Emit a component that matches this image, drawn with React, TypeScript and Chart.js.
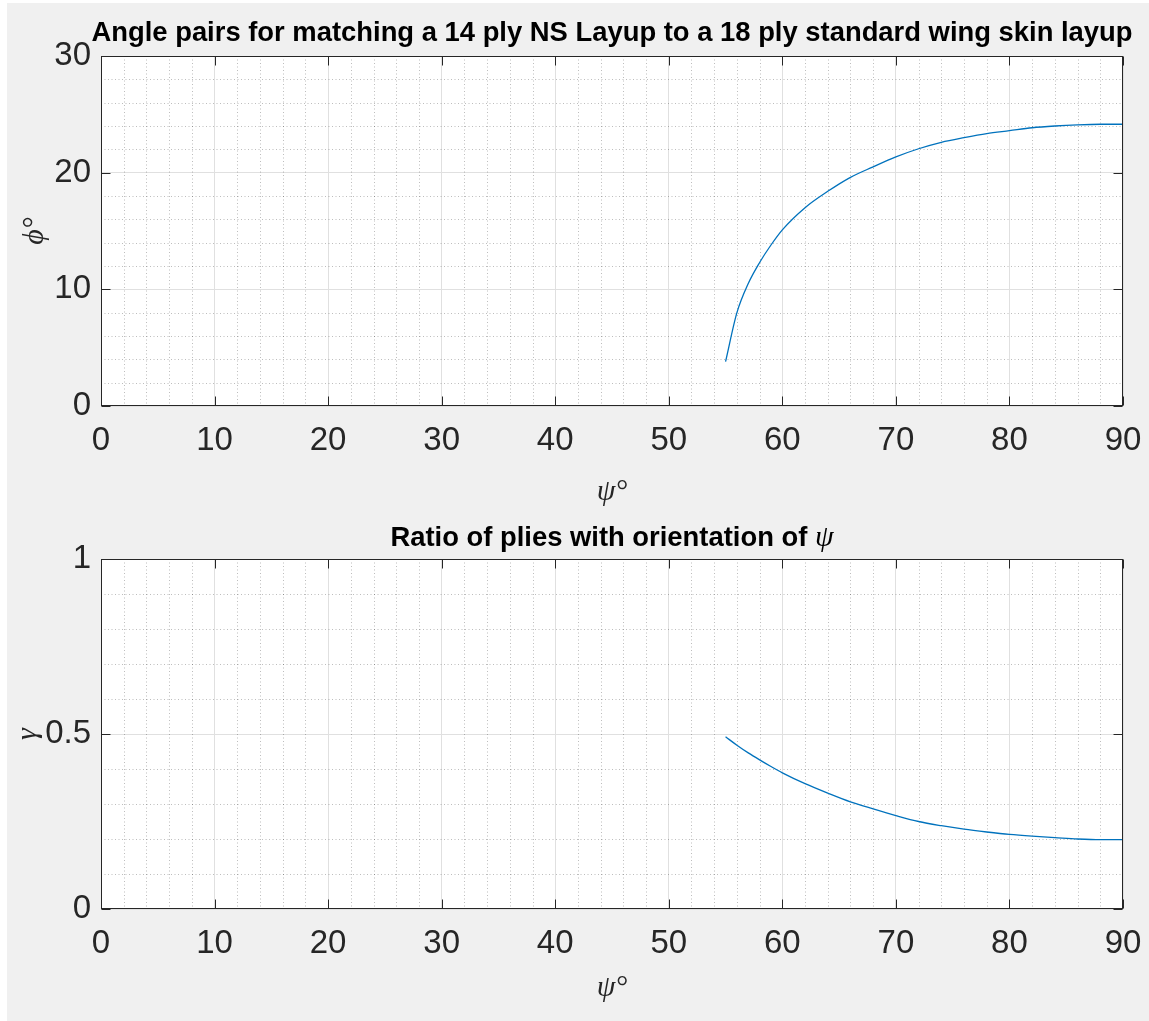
import React, { useEffect, useRef } from 'react';
import { Chart, registerables } from 'chart.js';

Chart.register(...registerables);

// ---- data ----
const psiTop = [55, 56, 57, 58, 59, 60, 62, 64, 66, 68, 70, 72, 74, 76, 78, 80, 82, 84, 86, 88, 90];
const phiTop = [3.8, 8.0, 10.5, 12.3, 13.8, 15.1, 17.0, 18.4, 19.6, 20.5, 21.35, 22.05, 22.6, 23.0, 23.35, 23.6, 23.85, 24.0, 24.1, 24.15, 24.15];

const psiBottom = [55, 56, 57, 58, 59, 60, 62, 64, 66, 68, 70, 72, 74, 76, 78, 80, 82, 84, 86, 88, 90];
const gammaBottom = [0.492, 0.468, 0.446, 0.426, 0.407, 0.389, 0.358, 0.331, 0.306, 0.286, 0.267, 0.25, 0.238, 0.228, 0.22, 0.213, 0.208, 0.204, 0.2, 0.198, 0.198];

const xTickValues = [0, 10, 20, 30, 40, 50, 60, 70, 80, 90];
const topYTickValues = [0, 10, 20, 30];
const bottomYTickValues = [0, 0.5, 1];

const topTitle = 'Angle pairs for matching a 14 ply NS Layup to a 18 ply standard wing skin layup';
const bottomTitleText = 'Ratio of plies with orientation of ';
const bottomTitleSymbol = 'ψ';
const xLabel = 'ψ°';
const topYLabel = 'ϕ°';
const bottomYLabel = 'γ';

// ---- styling ----
const SANS = "'Liberation Sans', Arial, Helvetica, sans-serif";
const SERIF = "'Liberation Serif', 'DejaVu Serif', serif";
const AXIS_COLOR = '#262626';
const LINE_COLOR = '#0072BD';

type TitlePart = { text: string; font: string };

const matlabPlugin = {
  id: 'matlab',
  beforeDraw(chart: any) {
    const { ctx, chartArea: a } = chart;
    ctx.save();
    ctx.fillStyle = '#ffffff';
    ctx.fillRect(a.left, a.top, a.right - a.left, a.bottom - a.top);
    ctx.restore();
  },
  beforeDatasetsDraw(chart: any) {
    const { ctx, chartArea: a, scales } = chart;
    ctx.save();
    ctx.strokeStyle = 'rgba(38,38,38,0.3)';
    ctx.lineWidth = 1;
    ctx.setLineDash([1, 2.5]);
    const drawMinor = (scale: any, horizontal: boolean) => {
      const vals = scale.ticks.map((t: any) => t.value);
      for (let i = 0; i < vals.length - 1; i++) {
        for (let k = 1; k < 5; k++) {
          const v = vals[i] + ((vals[i + 1] - vals[i]) * k) / 5;
          const p = Math.round(scale.getPixelForValue(v)) + 0.5;
          ctx.beginPath();
          if (horizontal) {
            ctx.moveTo(p, a.top);
            ctx.lineTo(p, a.bottom);
          } else {
            ctx.moveTo(a.left, p);
            ctx.lineTo(a.right, p);
          }
          ctx.stroke();
        }
      }
    };
    drawMinor(scales.x, true);
    drawMinor(scales.y, false);
    ctx.restore();
  },
  afterDatasetsDraw(chart: any) {
    const { ctx, chartArea: a, scales } = chart;
    const L = Math.round(a.left) + 0.5;
    const R = Math.round(a.right) - 0.5;
    const T = Math.round(a.top) + 0.5;
    const B = Math.round(a.bottom) - 0.5;
    ctx.save();
    ctx.strokeStyle = AXIS_COLOR;
    ctx.lineWidth = 1;
    ctx.setLineDash([]);
    ctx.strokeRect(L, T, R - L, B - T);
    const tl = 9;
    ctx.beginPath();
    scales.x.ticks.forEach((t: any) => {
      const p = Math.round(scales.x.getPixelForValue(t.value)) + 0.5;
      ctx.moveTo(p, B);
      ctx.lineTo(p, B - tl);
      ctx.moveTo(p, T);
      ctx.lineTo(p, T + tl);
    });
    scales.y.ticks.forEach((t: any) => {
      const p = Math.round(scales.y.getPixelForValue(t.value)) + 0.5;
      ctx.moveTo(L, p);
      ctx.lineTo(L + tl, p);
      ctx.moveTo(R, p);
      ctx.lineTo(R - tl, p);
    });
    ctx.stroke();
    ctx.restore();
  },
  afterDraw(chart: any, _args: any, opts: any) {
    const parts: TitlePart[] = opts.parts || [];
    const { ctx, chartArea: a } = chart;
    ctx.save();
    ctx.fillStyle = '#000000';
    ctx.textBaseline = 'alphabetic';
    ctx.textAlign = 'left';
    let total = 0;
    const widths = parts.map((p) => {
      ctx.font = p.font;
      const w = ctx.measureText(p.text).width;
      total += w;
      return w;
    });
    let x = (a.left + a.right) / 2 - total / 2;
    parts.forEach((p, i) => {
      ctx.font = p.font;
      ctx.fillText(p.text, x, opts.baseline);
      x += widths[i];
    });
    ctx.restore();
  },
};

type Cfg = {
  xs: number[];
  ys: number[];
  yMax: number;
  yTicks: number[];
  yLabel: string;
  yTitlePad: number;
  height: number;
  areaTop: number;
  areaBottom: number;
  titleParts: TitlePart[];
  titleBaseline: number;
  xTitlePad: number;
};

function makeConfig(c: Cfg): any {
  const tickFont = { family: SANS, size: 33 };
  return {
    type: 'scatter',
    data: {
      datasets: [
        {
          data: c.xs.map((x, i) => ({ x, y: c.ys[i] })),
          showLine: true,
          borderColor: LINE_COLOR,
          borderWidth: 1.3,
          pointRadius: 0,
          fill: false,
          cubicInterpolationMode: 'monotone',
        },
      ],
    },
    options: {
      responsive: false,
      animation: false,
      events: [],
      layout: { padding: { top: c.areaTop, left: 0, right: 26, bottom: 0 } },
      plugins: {
        legend: { display: false },
        tooltip: { enabled: false },
        title: { display: false },
        matlab: { parts: c.titleParts, baseline: c.titleBaseline },
      },
      scales: {
        x: {
          type: 'linear',
          min: 0,
          max: 90,
          afterBuildTicks: (s: any) => {
            s.ticks = xTickValues.map((v) => ({ value: v }));
          },
          afterFit: (s: any) => {
            s.height = c.height - c.areaBottom;
            s.paddingLeft = 0;
            s.paddingRight = 0;
          },
          ticks: {
            font: tickFont,
            color: AXIS_COLOR,
            padding: 15,
            autoSkip: false,
            maxRotation: 0,
            callback: (v: any) => String(+v),
          },
          grid: { color: '#e0e0e0', lineWidth: 1, drawTicks: false },
          border: { display: false },
          title: {
            display: true,
            text: xLabel,
            color: AXIS_COLOR,
            font: { family: SERIF, size: 30, style: 'italic' },
            padding: { top: 0, bottom: c.xTitlePad },
          },
        },
        y: {
          type: 'linear',
          min: 0,
          max: c.yMax,
          afterBuildTicks: (s: any) => {
            s.ticks = c.yTicks.map((v) => ({ value: v }));
          },
          afterFit: (s: any) => {
            s.width = 101;
            s.paddingTop = 0;
            s.paddingBottom = 0;
          },
          ticks: {
            font: tickFont,
            color: AXIS_COLOR,
            padding: 10,
            autoSkip: false,
            callback: (v: any) => String(+v),
          },
          grid: { color: '#e0e0e0', lineWidth: 1, drawTicks: false },
          border: { display: false },
          title: {
            display: true,
            text: c.yLabel,
            color: AXIS_COLOR,
            font: { family: SERIF, size: 30, style: 'italic' },
            padding: { top: c.yTitlePad, bottom: 0 },
          },
        },
      },
    },
    plugins: [matlabPlugin],
  };
}

export default function App() {
  const topRef = useRef<HTMLCanvasElement>(null);
  const botRef = useRef<HTMLCanvasElement>(null);

  useEffect(() => {
    const titleFont = `bold 27.4px ${SANS}`;
    const c1 = new Chart(
      topRef.current as HTMLCanvasElement,
      makeConfig({
        xs: psiTop,
        ys: phiTop,
        yMax: 30,
        yTicks: topYTickValues,
        yLabel: topYLabel,
        yTitlePad: 17,
        height: 510,
        areaTop: 56,
        areaBottom: 406,
        titleParts: [{ text: topTitle, font: titleFont }],
        titleBaseline: 41,
        xTitlePad: 0,
      })
    );
    const c2 = new Chart(
      botRef.current as HTMLCanvasElement,
      makeConfig({
        xs: psiBottom,
        ys: gammaBottom,
        yMax: 1,
        yTicks: bottomYTickValues,
        yLabel: bottomYLabel,
        yTitlePad: 10,
        height: 511,
        areaTop: 49,
        areaBottom: 399,
        titleParts: [
          { text: bottomTitleText, font: titleFont },
          { text: bottomTitleSymbol, font: `italic 30px ${SERIF}` },
        ],
        titleBaseline: 36,
        xTitlePad: 15,
      })
    );
    return () => {
      c1.destroy();
      c2.destroy();
    };
  }, []);

  return (
    <div
      style={{
        position: 'absolute',
        left: 0,
        top: 0,
        width: 1149,
        height: 1021,
        background: '#ffffff',
        overflow: 'hidden',
      }}
    >
      <div style={{ position: 'absolute', left: 7, top: 3, right: 0, bottom: 0, background: '#f0f0f0' }} />
      <canvas ref={topRef} width={1149} height={510} style={{ position: 'absolute', left: 0, top: 0 }} />
      <canvas ref={botRef} width={1149} height={511} style={{ position: 'absolute', left: 0, top: 510 }} />
    </div>
  );
}
